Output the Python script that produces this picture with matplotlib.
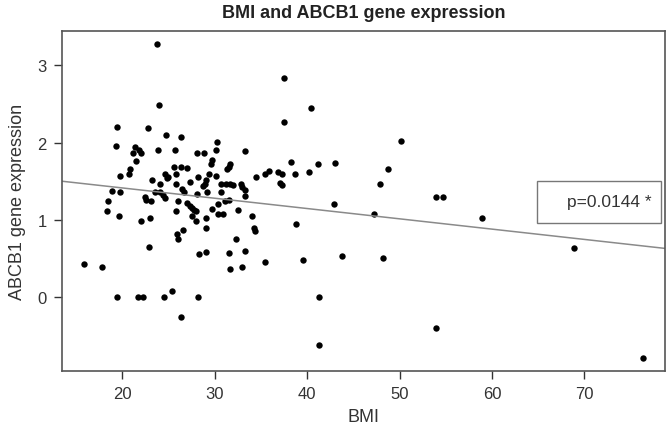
import matplotlib.pyplot as plt
from matplotlib.patches import Rectangle

plt.rcParams['font.family'] = ['Liberation Sans', 'DejaVu Sans']

# values
bmi = [24.7, 26.4, 19.3, 21.4, 21.1, 21.8, 22.0, 23.9, 25.7, 30.2,
       30.1, 28.1, 28.8, 33.3, 21.5, 29.7, 29.6, 31.6, 31.5, 31.3,
       25.6, 26.4, 27.0, 20.8, 20.7, 19.7, 24.6, 24.8, 24.9, 25.8,
       29.4, 30.1, 28.2, 34.5, 23.2, 24.1, 27.3, 29.0, 28.9, 28.7,
       25.8, 30.7, 31.2, 31.7, 32.0, 32.8, 33.0, 33.3, 18.9, 19.7,
       23.5, 24.1, 24.4, 24.6, 26.5, 26.7, 28.1, 29.2, 30.7, 33.3,
       22.4, 22.6, 23.1, 26.0, 18.5, 27.0, 27.3, 27.5, 27.8, 28.0,
       30.4, 31.1, 31.5, 18.3, 25.8, 29.7, 30.3, 30.9, 32.5, 19.6,
       27.5, 28.0, 29.0, 22.0, 23.0, 34.0, 34.2, 34.4, 29.1, 26.6,
       25.9, 26.0, 32.3, 22.9, 28.3, 29.0, 31.5, 33.3, 15.9, 17.8,
       31.7, 33.0,
       23.7, 24.0, 19.4, 22.8, 19.4, 21.7, 22.2, 24.5, 25.4, 26.3, 28.2,
       37.5, 40.4, 37.5, 50.2, 38.3, 41.2, 43.0, 35.4, 35.9, 36.8, 37.3,
       37.1, 37.3, 38.7, 40.2, 48.7, 47.9, 53.9, 54.7, 42.9, 47.2,
       38.8, 35.4, 39.6, 43.8, 48.2, 41.3, 53.9, 41.3,
       58.9, 68.9, 76.3]

expr = [2.10, 2.07, 1.96, 1.94, 1.87, 1.90, 1.87, 1.90, 1.91, 2.01,
        1.90, 1.87, 1.87, 1.89, 1.76, 1.78, 1.72, 1.72, 1.68, 1.66,
        1.68, 1.68, 1.67, 1.66, 1.60, 1.57, 1.59, 1.54, 1.56, 1.59,
        1.60, 1.57, 1.55, 1.56, 1.51, 1.47, 1.49, 1.51, 1.47, 1.44,
        1.46, 1.47, 1.47, 1.47, 1.45, 1.46, 1.42, 1.39, 1.38, 1.36,
        1.36, 1.36, 1.32, 1.28, 1.40, 1.36, 1.33, 1.36, 1.36, 1.31,
        1.29, 1.26, 1.24, 1.25, 1.24, 1.22, 1.18, 1.16, 1.13, 1.11,
        1.21, 1.24, 1.26, 1.11, 1.12, 1.14, 1.08, 1.07, 1.13, 1.05,
        1.05, 0.99, 1.03, 0.99, 1.02, 1.05, 0.89, 0.86, 0.89, 0.87,
        0.82, 0.75, 0.75, 0.65, 0.56, 0.59, 0.57, 0.60, 0.43, 0.39,
        0.37, 0.39,
        3.28, 2.49, 2.20, 2.19, 0.0, 0.0, 0.0, 0.0, 0.08, -0.26, 0.0,
        2.84, 2.45, 2.27, 2.02, 1.75, 1.72, 1.74, 1.60, 1.63, 1.62, 1.59,
        1.48, 1.45, 1.60, 1.62, 1.66, 1.47, 1.29, 1.29, 1.20, 1.08,
        0.95, 0.46, 0.48, 0.53, 0.51, 0.0, -0.40, -0.62,
        1.02, 0.63, -0.79]

# regression line
fit_intercept = 1.68
fit_slope = -0.01333
p_label = "p=0.0144 *"

x_ticks = [20, 30, 40, 50, 60, 70]
y_ticks = [0, 1, 2, 3]


def r_range(vals):
    # R style axis range: data range plus 4% each side
    lo, hi = min(vals), max(vals)
    d = (hi - lo) * 0.04
    return lo - d, hi + d


fig = plt.figure(figsize=(6.68, 4.35), dpi=100)
ax = fig.add_axes([0.093, 0.1455, 0.9025, 0.7805])

ax.plot(bmi, expr, 'o', color='black', markersize=4.6, markeredgewidth=0)
ax.axline((0, fit_intercept), slope=fit_slope, color='#8a8a8a', linewidth=1.1)
ax.set_xlim(r_range(bmi))
ax.set_ylim(r_range(expr))

# legend-like box on the right
ax.add_patch(Rectangle((0.787, 0.435), 0.206, 0.124, transform=ax.transAxes,
                       fill=False, edgecolor='#777777', linewidth=1.0))
ax.text(0.978, 0.497, p_label, transform=ax.transAxes, ha='right', va='center',
        fontsize=12.5, color='#333333')

ax.set_xticks(x_ticks)
ax.set_yticks(y_ticks)
ax.tick_params(direction='out', length=6, width=1, colors='#333333',
               labelsize=12, pad=5, labelcolor='#333333')
for s in ax.spines.values():
    s.set_color('#555555')
    s.set_linewidth(1.2)

ax.set_title("BMI and ABCB1 gene expression", fontsize=13, fontweight='bold',
             color='#222222', pad=10)
ax.set_xlabel("BMI", fontsize=13, color='#333333', labelpad=5)
ax.set_ylabel("ABCB1 gene expression", fontsize=13, color='#333333', labelpad=8)

fig.savefig("out.png", dpi=100)
